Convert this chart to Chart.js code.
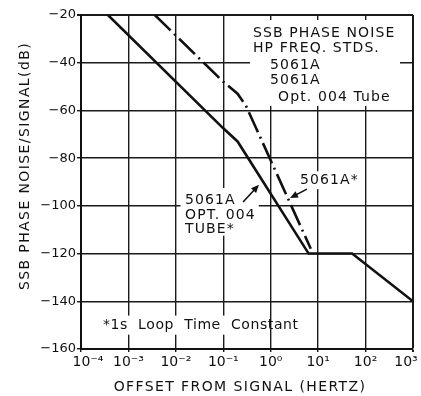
<!DOCTYPE html>
<html>
<head>
<meta charset="utf-8">
<script src="https://cdn.jsdelivr.net/npm/chart.js@4/dist/chart.umd.min.js"></script>
<style>
html,body{margin:0;padding:0;background:#fff;}
#wrap{width:421px;height:396px;}
</style>
</head>
<body>
<div id="wrap"><canvas id="c" width="421" height="396"></canvas></div>
<script>
// ---- data ----
const xTickValues = [1e-4, 1e-3, 1e-2, 1e-1, 1, 10, 100, 1000];
const yTickValues = [-160, -140, -120, -100, -80, -60, -40, -20];

// 5061A Opt. 004 Tube* (solid)
const tubeFreq  = [0.00037, 0.1, 0.2, 6.3, 52, 1000];
const tubeNoise = [-20, -67.5, -73, -120, -120, -140];

// 5061A* (dashed)
const stdFreq  = [0.0036, 0.1, 0.2, 0.3, 7];
const stdNoise = [-20, -48, -53, -58, -118];

const yTitle = 'SSB PHASE NOISE/SIGNAL(dB)';
const xTitle = 'OFFSET FROM SIGNAL (HERTZ)';

const boxLines = [
  {t:'SSB PHASE NOISE', x:0.423, y:-27.5},
  {t:'HP FREQ. STDS.',  x:0.423, y:-33.8},
  {t:'5061A',           x:0.966, y:-41.0},
  {t:'5061A',           x:0.966, y:-47.2},
  {t:'Opt. 004 Tube',   x:1.43,  y:-54.4}
];
const tubeLabel = [
  {t:'5061A',   x:0.0156, y:-97.5},
  {t:'OPT. 004',x:0.0156, y:-103.8},
  {t:'TUBE*',   x:0.0156, y:-109.7}
];
const stdLabel = [{t:'5061A*', x:4.14, y:-89.2}];
const noteLabel = [{t:'*1s  Loop  Time  Constant', x:0.000291, y:-150}];

const toPts = (xs, ys) => xs.map((x, i) => ({x: x, y: ys[i]}));
const sup = {'-':'\u207B','0':'\u2070','1':'\u00B9','2':'\u00B2','3':'\u00B3','4':'\u2074','5':'\u2075','6':'\u2076','7':'\u2077','8':'\u2078','9':'\u2079'};
const fmtPow = v => '10' + String(Math.round(Math.log10(v))).split('').map(c => sup[c]).join('');

const annot = {
  id: 'annot',
  beforeDatasetsDraw(chart) {
    const {ctx, scales: {x, y}} = chart;
    ctx.save();
    ctx.fillStyle = '#fff';
    const rect = (x0, x1, y0, y1) => {
      const a = x.getPixelForValue(x0), b = x.getPixelForValue(x1);
      const c = y.getPixelForValue(y0), d = y.getPixelForValue(y1);
      ctx.fillRect(Math.min(a,b), Math.min(c,d), Math.abs(b-a), Math.abs(d-c));
    };
    rect(0.366, 532, -22.1, -58.1);
    rect(0.0125, 0.56, -92.5, -112.5);
    rect(3.5, 48, -85.5, -93);
    rect(0.00025, 0.62, -146, -154);
    ctx.restore();
  },
  afterDatasetsDraw(chart) {
    const {ctx, scales: {x, y}} = chart;
    ctx.save();
    ctx.fillStyle = '#111';
    ctx.strokeStyle = '#111';
    ctx.font = '14px "DejaVu Sans"';
    ctx.textBaseline = 'middle';
    ctx.textAlign = 'left';
    ctx.letterSpacing = '1.1px';
    const put = arr => arr.forEach(o => ctx.fillText(o.t, x.getPixelForValue(o.x), y.getPixelForValue(o.y)));
    put(boxLines); put(tubeLabel); put(stdLabel);
    ctx.letterSpacing = '0.6px';
    put(noteLabel);
    const arrow = (fx, fy, tx, ty) => {
      const x0 = x.getPixelForValue(fx), y0 = y.getPixelForValue(fy);
      const x1 = x.getPixelForValue(tx), y1 = y.getPixelForValue(ty);
      const ang = Math.atan2(y1 - y0, x1 - x0);
      ctx.lineWidth = 1.6;
      ctx.beginPath(); ctx.moveTo(x0, y0); ctx.lineTo(x1 - 4*Math.cos(ang), y1 - 4*Math.sin(ang)); ctx.stroke();
      ctx.beginPath();
      ctx.moveTo(x1, y1);
      ctx.lineTo(x1 - 8*Math.cos(ang) + 3.5*Math.sin(ang), y1 - 8*Math.sin(ang) - 3.5*Math.cos(ang));
      ctx.lineTo(x1 - 8*Math.cos(ang) - 3.5*Math.sin(ang), y1 - 8*Math.sin(ang) + 3.5*Math.cos(ang));
      ctx.closePath(); ctx.fill();
    };
    arrow(0.261, -98.4, 0.566, -91.2);
    arrow(5.8, -93.0, 2.55, -96.7);
    // axis titles
    ctx.letterSpacing = '1.4px';
    ctx.textAlign = 'center';
    ctx.fillText(xTitle, 240, 387);
    ctx.translate(25, 166);
    ctx.rotate(-Math.PI / 2);
    ctx.fillText(yTitle, 0, 0);
    ctx.restore();
  }
};

new Chart(document.getElementById('c'), {
  type: 'line',
  data: {
    datasets: [
      {data: toPts(tubeFreq, tubeNoise), borderColor: '#111', borderWidth: 2.6, pointRadius: 0, fill: false, tension: 0},
      {data: toPts(stdFreq, stdNoise), borderColor: '#111', borderWidth: 2.6, pointRadius: 0, fill: false, tension: 0, borderDash: [22, 5, 2, 5]}
    ]
  },
  options: {
    responsive: false,
    animation: false,
    devicePixelRatio: 1,
    layout: {padding: {top: 15, right: 8, left: 0, bottom: 0}},
    plugins: {legend: {display: false}, tooltip: {enabled: false}},
    scales: {
      x: {
        type: 'logarithmic',
        min: 1e-4, max: 1e3,
        afterBuildTicks: s => { s.ticks = xTickValues.map(v => ({value: v})); },
        afterFit: s => { s.height = 47; s.paddingLeft = 0; s.paddingRight = 0; },
        ticks: {
          callback: v => {
            let s = fmtPow(v);
            if (v === xTickValues[0]) s = '\u2003' + s;
            if (v === xTickValues[xTickValues.length - 1]) s = s + '\u2003';
            return s;
          },
          font: {family: 'DejaVu Sans', size: 14}, color: '#111', padding: 2, maxRotation: 0, autoSkip: false
        },
        grid: {color: '#1a1a1a', lineWidth: c => (c.tick && c.tick.value === 1000) ? 2 : 1.4, tickLength: 3},
        border: {display: true, color: '#111', width: 2}
      },
      y: {
        min: -160, max: -20,
        afterBuildTicks: s => { s.ticks = yTickValues.map(v => ({value: v})); },
        afterFit: s => { s.width = 81; s.paddingTop = 0; s.paddingBottom = 0; },
        ticks: {callback: v => '\u2212' + Math.abs(v), font: {family: 'DejaVu Sans', size: 13}, color: '#111', padding: 1},
        grid: {color: '#1a1a1a', lineWidth: c => (c.tick && c.tick.value === -20) ? 2 : 1.4, tickLength: 4},
        border: {display: true, color: '#111', width: 2}
      }
    }
  },
  plugins: [annot]
});
</script>
</body>
</html>
